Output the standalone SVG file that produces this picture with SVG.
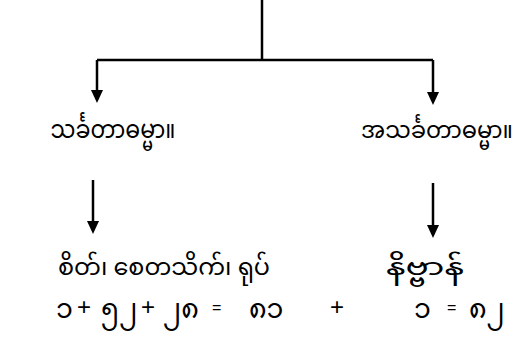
<svg xmlns="http://www.w3.org/2000/svg" width="527" height="341" viewBox="0 0 527 341">
<defs>
<style>
.ln{stroke:#000;stroke-width:2.5;fill:none}
.t{font-family:"Noto Sans Myanmar","Padauk","Myanmar Text","Noto Sans",sans-serif;font-size:25px;fill:#000}
.c{text-anchor:middle}
.s{font-size:24px}
.d{font-size:27px}
.p{font-family:"Liberation Sans",Arial,sans-serif;font-size:24px;fill:#000}
.e{font-family:"Liberation Sans",Arial,sans-serif;font-size:16px;fill:#000}
</style>
</defs>
<rect width="527" height="341" fill="#fff"/>
<g id="connectors">
<path class="ln" d="M262,0 V60 M97,60 H433"/>
<path d="M97,60 V91" class="ln"/>
<path d="M91,90 L103,90 L97,103 Z" fill="#000"/>
<path d="M433,60 V93" class="ln"/>
<path d="M427,92 L439,92 L433,105 Z" fill="#000"/>
<path d="M93,180 V222" class="ln"/>
<path d="M87,221 L99,221 L93,234 Z" fill="#000"/>
<path d="M433,183 V226" class="ln"/>
<path d="M427,225 L439,225 L433,238 Z" fill="#000"/>
</g>
<g id="n-sankhata"><text class="t c" x="113" y="138" textLength="125" lengthAdjust="spacingAndGlyphs">သင်္ခတာဓမ္မာ။</text></g>
<g id="n-asankhata"><text class="t c s" x="437" y="138" textLength="152" lengthAdjust="spacingAndGlyphs">အသင်္ခတာဓမ္မာ။</text></g>
<g id="n-citta"><text class="t s" x="58" y="275" textLength="212" lengthAdjust="spacingAndGlyphs">စိတ်၊ စေတသိက်၊ ရုပ်</text></g>
<g id="n-nibbana"><text class="t s" x="386" y="275" textLength="78" lengthAdjust="spacingAndGlyphs">နိဗ္ဗာန်</text></g>
<g id="sum">
<text class="t d" y="318"><tspan x="56">၁</tspan><tspan x="101">၅၂</tspan><tspan x="163">၂၈</tspan><tspan x="249">၈၁</tspan><tspan x="414">၁</tspan><tspan x="469">၈၂</tspan></text>
<text class="p" y="315"><tspan x="77">+</tspan><tspan x="141">+</tspan><tspan x="330">+</tspan></text>
<text class="e" y="313"><tspan x="212">=</tspan><tspan x="447">=</tspan></text>
</g>
</svg>
